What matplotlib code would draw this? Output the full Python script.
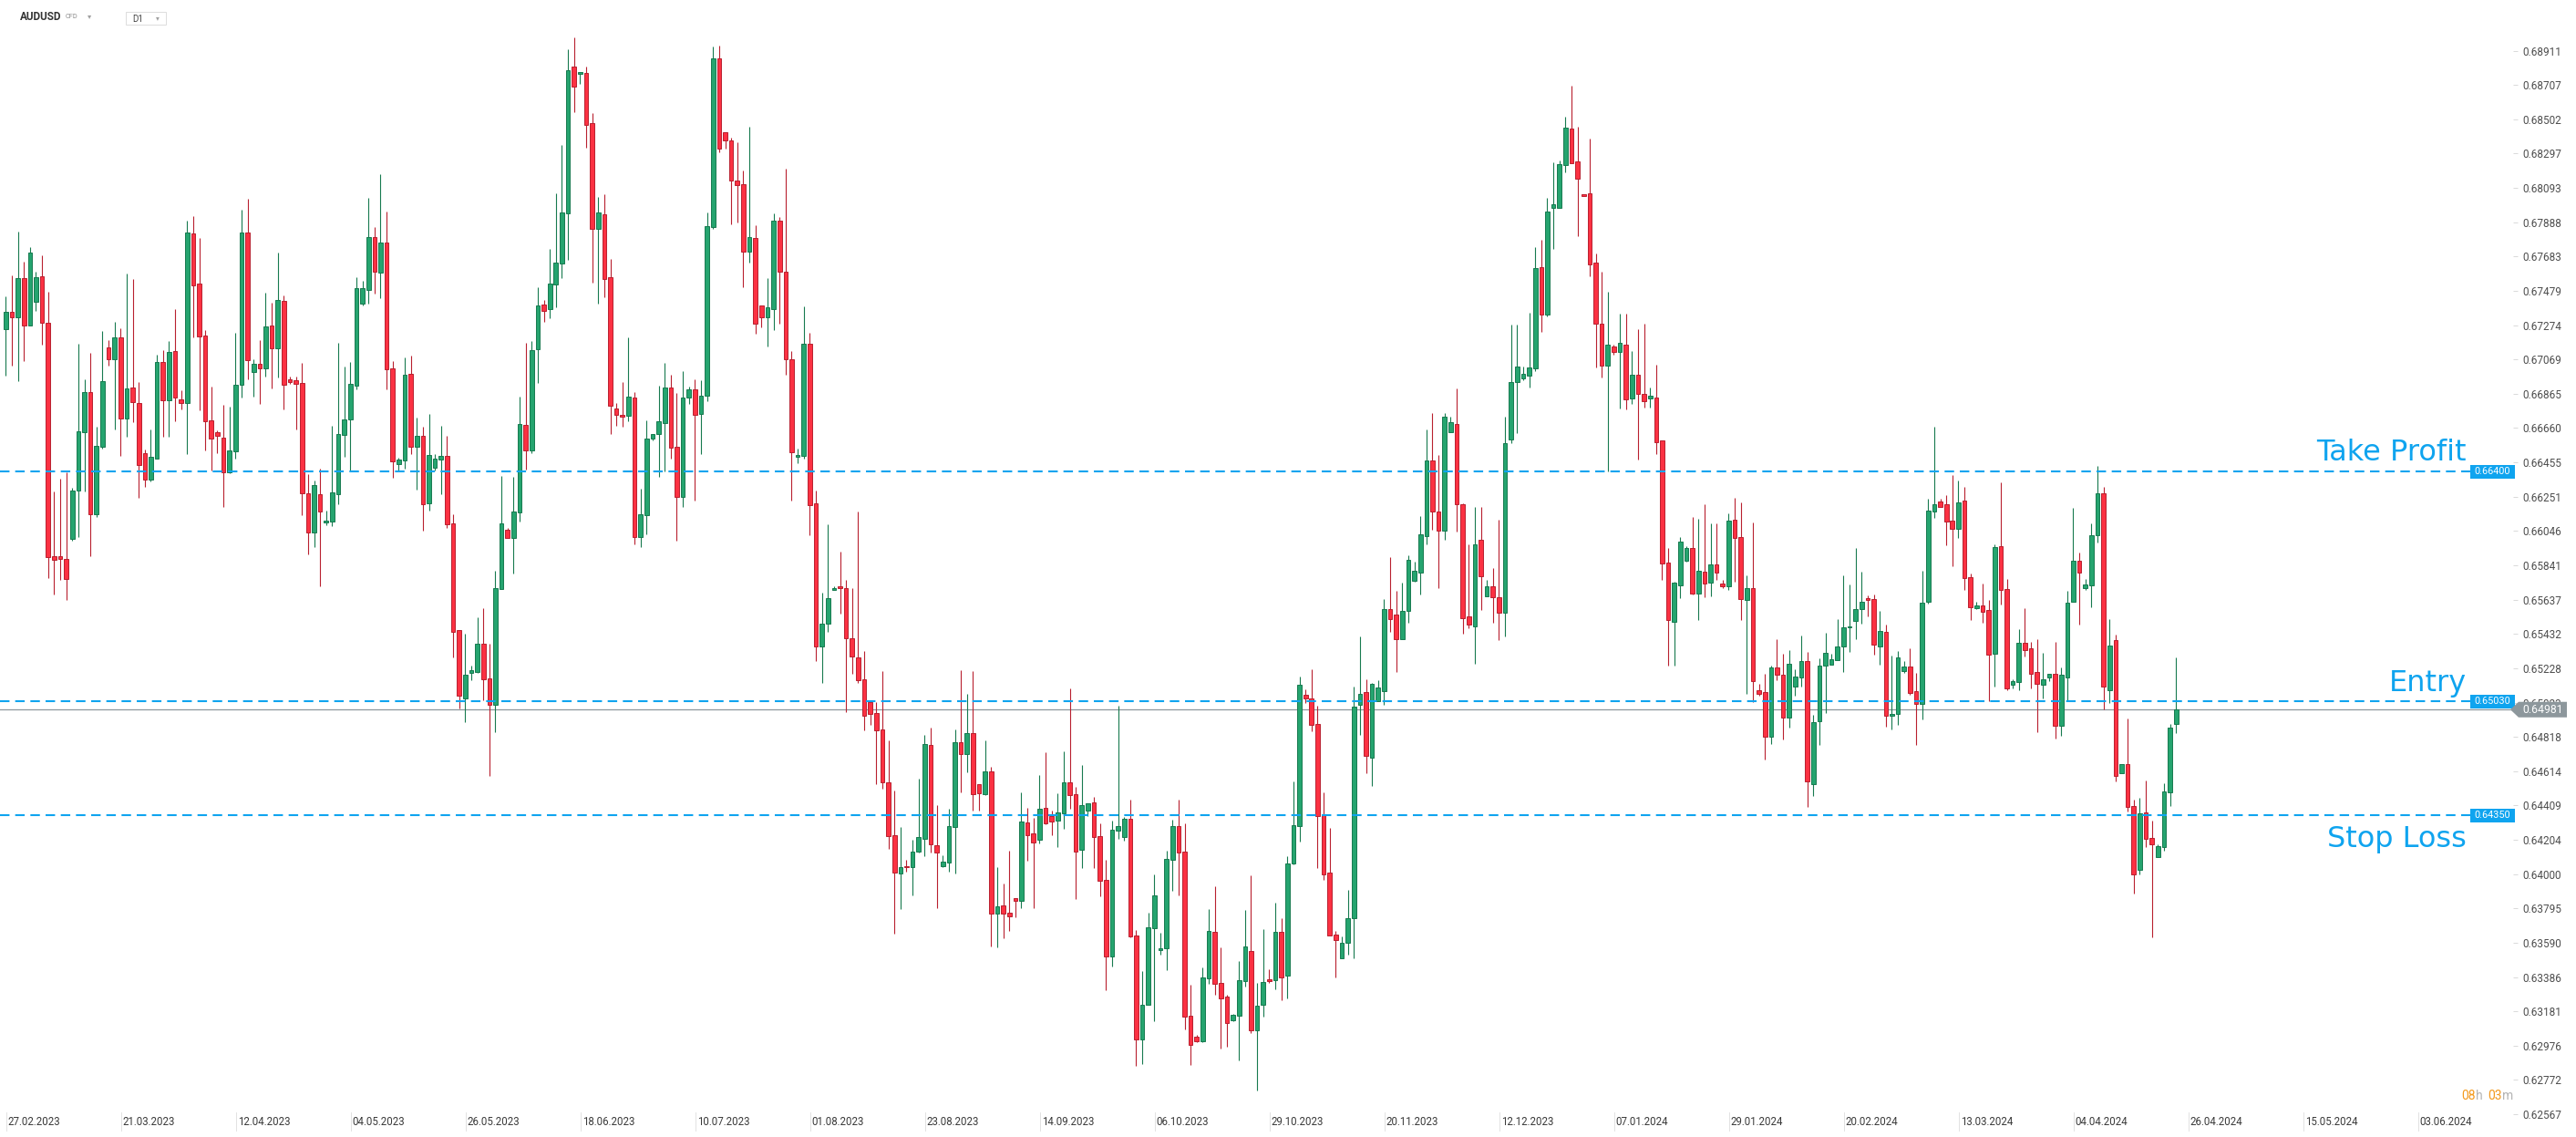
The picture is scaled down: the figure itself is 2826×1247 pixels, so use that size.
import matplotlib
matplotlib.use("Agg")
import matplotlib.pyplot as plt
import numpy as np
from matplotlib.patches import Polygon, Rectangle
from matplotlib.transforms import IdentityTransform

W, H = 2826, 1247

# daily AUDUSD candles (one entry per bar)
opens = [
    0.67248, 0.67351, 0.67319, 0.67553, 0.67270, 0.67411, 0.67563, 0.67286, 0.65894, 0.65894,
    0.65878, 0.65997, 0.66286, 0.66634, 0.66873, 0.66144, 0.66547, 0.67139, 0.67069, 0.67199,
    0.66715, 0.66900, 0.66808, 0.66509, 0.66351, 0.66476, 0.67052, 0.66824, 0.67118, 0.66829,
    0.66808, 0.67819, 0.67520, 0.67210, 0.66704, 0.66634, 0.66601, 0.66394, 0.66519, 0.66916,
    0.67824, 0.66992, 0.67041, 0.67014, 0.67270, 0.67134, 0.67417, 0.66949, 0.66944, 0.66927,
    0.66269, 0.66035, 0.66268, 0.66097, 0.66100, 0.66268, 0.66618, 0.66711, 0.66915, 0.67404,
    0.67486, 0.67798, 0.67585, 0.67765, 0.67014, 0.66443, 0.66467, 0.66985, 0.66551, 0.66615,
    0.66210, 0.66423, 0.66470, 0.66496, 0.66091, 0.65453, 0.65045, 0.65202, 0.65205, 0.65374,
    0.65167, 0.65007, 0.65698, 0.66053, 0.66003, 0.66155, 0.66679, 0.66525, 0.67128, 0.67399,
    0.67372, 0.67515, 0.67640, 0.67940, 0.68814, 0.68773, 0.68776, 0.68479, 0.67847, 0.67934,
    0.67562, 0.66778, 0.66740, 0.66731, 0.66844, 0.66009, 0.66140, 0.66595, 0.66622, 0.66692,
    0.66900, 0.66549, 0.66248, 0.66844, 0.66889, 0.66744, 0.66851, 0.67857, 0.68863, 0.68426,
    0.68377, 0.68138, 0.68113, 0.67711, 0.67791, 0.67389, 0.67323, 0.67371, 0.67895, 0.67590,
    0.67073, 0.66487, 0.66494, 0.67163, 0.66210, 0.65360, 0.65495, 0.65693, 0.65714, 0.65707,
    0.65409, 0.65294, 0.65162, 0.65027, 0.64958, 0.64861, 0.64549, 0.64233, 0.64004, 0.64049,
    0.64039, 0.64133, 0.64212, 0.64770, 0.64174, 0.64049, 0.64071, 0.64279, 0.64785, 0.64714,
    0.64839, 0.64535, 0.64478, 0.64611, 0.63763, 0.63811, 0.63768, 0.63855, 0.63839, 0.64306,
    0.64241, 0.64203, 0.64393, 0.64344, 0.64317, 0.64361, 0.64546, 0.64475, 0.64143, 0.64377,
    0.64426, 0.64225, 0.63964, 0.63507, 0.64257, 0.64219, 0.64328, 0.63632, 0.63012, 0.63219,
    0.63676, 0.63545, 0.63556, 0.64083, 0.64285, 0.64132, 0.63153, 0.63028, 0.63001, 0.63376,
    0.63654, 0.63349, 0.63268, 0.63126, 0.63153, 0.63360, 0.63539, 0.63066, 0.63220, 0.63375,
    0.63368, 0.63654, 0.63393, 0.64064, 0.64289, 0.65068, 0.65050, 0.64897, 0.64357, 0.64007,
    0.63639, 0.63497, 0.63589, 0.63736, 0.65011, 0.65083, 0.64693, 0.65029, 0.65093, 0.65582,
    0.65550, 0.65400, 0.65568, 0.65747, 0.65800, 0.66018, 0.66468, 0.66165, 0.66047, 0.66633,
    0.66686, 0.66204, 0.65536, 0.65479, 0.65993, 0.65658, 0.65715, 0.65650, 0.65561, 0.66590,
    0.66933, 0.66954, 0.66972, 0.67015, 0.67619, 0.67336, 0.67972, 0.67972, 0.68229, 0.68445,
    0.68251, 0.68057, 0.68062, 0.67646, 0.67285, 0.67030, 0.67149, 0.67116, 0.67160, 0.66839,
    0.66980, 0.66866, 0.66839, 0.66844, 0.66586, 0.65857, 0.65507, 0.65723, 0.65870, 0.65943,
    0.65671, 0.65801, 0.65740, 0.65848, 0.65732, 0.65715, 0.66112, 0.66009, 0.65637, 0.65707,
    0.65096, 0.65088, 0.64819, 0.65232, 0.65191, 0.64933, 0.65116, 0.65174, 0.65268, 0.64536,
    0.64911, 0.65243, 0.65249, 0.65277, 0.65357, 0.65471, 0.65510, 0.65582, 0.65648, 0.65640,
    0.65360, 0.65442, 0.64947, 0.64953, 0.65209, 0.65236, 0.65089, 0.65014, 0.65626, 0.66160,
    0.66221, 0.66204, 0.66110, 0.66061, 0.66225, 0.65773, 0.65588, 0.65601, 0.65574, 0.65315,
    0.65954, 0.65698, 0.65130, 0.65143, 0.65382, 0.65345, 0.65203, 0.65130, 0.65170, 0.65197,
    0.64887, 0.65174, 0.65623, 0.65867, 0.65703, 0.65723, 0.66019, 0.66269, 0.65095, 0.65393,
    0.64600, 0.64654, 0.64408, 0.64023, 0.64367, 0.64213, 0.64104, 0.64161, 0.64485, 0.64893,
]
highs = [
    0.67446, 0.67571, 0.67832, 0.67652, 0.67739, 0.67592, 0.67690, 0.67473, 0.66282, 0.66358,
    0.66396, 0.66304, 0.67163, 0.66951, 0.67109, 0.66668, 0.67237, 0.67185, 0.67293, 0.67255,
    0.67582, 0.67549, 0.66935, 0.66532, 0.66652, 0.67098, 0.67125, 0.67179, 0.67369, 0.66884,
    0.67897, 0.67924, 0.67794, 0.67244, 0.66907, 0.66645, 0.66799, 0.66788, 0.67228, 0.67962,
    0.68026, 0.67071, 0.67185, 0.67467, 0.67408, 0.67707, 0.67451, 0.66965, 0.66965, 0.67047,
    0.66385, 0.66347, 0.66420, 0.66166, 0.66673, 0.67168, 0.67029, 0.67055, 0.67562, 0.67538,
    0.68033, 0.67859, 0.68173, 0.67952, 0.67061, 0.66481, 0.67081, 0.67093, 0.66723, 0.66667,
    0.66746, 0.66504, 0.66673, 0.66615, 0.66146, 0.65453, 0.65436, 0.65246, 0.65532, 0.65587,
    0.65374, 0.65808, 0.66376, 0.66062, 0.66370, 0.66848, 0.67168, 0.67177, 0.67500, 0.67425,
    0.67731, 0.68060, 0.68348, 0.68919, 0.68989, 0.68785, 0.68817, 0.68540, 0.68039, 0.68054,
    0.67669, 0.66810, 0.66935, 0.67203, 0.66875, 0.66300, 0.66706, 0.66626, 0.66914, 0.67049,
    0.66976, 0.66869, 0.67000, 0.66910, 0.66952, 0.66945, 0.67947, 0.68935, 0.68942, 0.68426,
    0.68391, 0.68363, 0.68197, 0.68457, 0.67871, 0.67389, 0.67555, 0.67940, 0.67919, 0.68207,
    0.67122, 0.66539, 0.67385, 0.67229, 0.66289, 0.65679, 0.66085, 0.65717, 0.65922, 0.65755,
    0.65707, 0.66161, 0.65329, 0.65027, 0.65027, 0.65211, 0.64798, 0.64500, 0.64282, 0.64084,
    0.64205, 0.64569, 0.64830, 0.64875, 0.64410, 0.64115, 0.64390, 0.64863, 0.65216, 0.65075,
    0.65211, 0.64535, 0.64797, 0.64638, 0.64042, 0.63944, 0.64140, 0.63855, 0.64488, 0.64395,
    0.64335, 0.64591, 0.64727, 0.64377, 0.64482, 0.64732, 0.65107, 0.64520, 0.64651, 0.64421,
    0.64460, 0.64303, 0.64085, 0.64319, 0.65004, 0.64339, 0.64444, 0.63665, 0.63422, 0.63770,
    0.63998, 0.63650, 0.64140, 0.64323, 0.64444, 0.64303, 0.63340, 0.63039, 0.63444, 0.63794,
    0.63929, 0.63563, 0.63282, 0.63164, 0.63482, 0.63786, 0.63993, 0.63350, 0.63671, 0.63432,
    0.63829, 0.63736, 0.64107, 0.64554, 0.65179, 0.65100, 0.65222, 0.65004, 0.64486, 0.64275,
    0.63661, 0.63629, 0.63907, 0.65118, 0.65418, 0.65161, 0.65140, 0.65157, 0.65640, 0.65890,
    0.65690, 0.65740, 0.65900, 0.65865, 0.66136, 0.66651, 0.66750, 0.66501, 0.66750, 0.66729,
    0.66897, 0.66211, 0.65968, 0.66190, 0.66190, 0.65754, 0.65825, 0.66115, 0.66729, 0.67276,
    0.67276, 0.67026, 0.67347, 0.67740, 0.67783, 0.68033, 0.68244, 0.68258, 0.68515, 0.68703,
    0.68456, 0.68057, 0.68387, 0.67701, 0.67593, 0.67474, 0.67155, 0.67341, 0.67341, 0.67122,
    0.67252, 0.67280, 0.66903, 0.67038, 0.66586, 0.65943, 0.65743, 0.66012, 0.65954, 0.66131,
    0.66120, 0.66206, 0.66092, 0.66092, 0.65754, 0.66151, 0.66242, 0.66217, 0.65782, 0.66098,
    0.65133, 0.65193, 0.65243, 0.65399, 0.65316, 0.65335, 0.65221, 0.65424, 0.65324, 0.64949,
    0.65288, 0.65440, 0.65313, 0.65518, 0.65782, 0.65726, 0.65945, 0.65801, 0.65660, 0.65665,
    0.65571, 0.65488, 0.65303, 0.65330, 0.65268, 0.65347, 0.65199, 0.65809, 0.66240, 0.66668,
    0.66240, 0.66260, 0.66379, 0.66348, 0.66308, 0.65794, 0.65623, 0.65732, 0.65634, 0.65967,
    0.66337, 0.65761, 0.65164, 0.65461, 0.65586, 0.65384, 0.65401, 0.65320, 0.65197, 0.65384,
    0.65230, 0.65690, 0.66183, 0.65917, 0.65759, 0.66092, 0.66435, 0.66308, 0.65522, 0.65428,
    0.64654, 0.64928, 0.64443, 0.64454, 0.64558, 0.64319, 0.64177, 0.64541, 0.64895, 0.65293,
]
lows = [
    0.66972, 0.67032, 0.66942, 0.67061, 0.67270, 0.67360, 0.67159, 0.65767, 0.65669, 0.65756,
    0.65637, 0.65986, 0.66012, 0.66282, 0.65898, 0.66132, 0.66536, 0.67032, 0.66654, 0.66496,
    0.66610, 0.66697, 0.66246, 0.66311, 0.66340, 0.66476, 0.66610, 0.66610, 0.66702, 0.66773,
    0.66507, 0.67203, 0.66768, 0.66529, 0.66407, 0.66512, 0.66191, 0.66389, 0.66480, 0.66844,
    0.66949, 0.66849, 0.66806, 0.66969, 0.66898, 0.66963, 0.66773, 0.66922, 0.66654, 0.66142,
    0.65908, 0.65948, 0.65715, 0.66079, 0.66073, 0.66204, 0.66487, 0.66400, 0.66889, 0.67390,
    0.67401, 0.67460, 0.67433, 0.66889, 0.66362, 0.66408, 0.66417, 0.66507, 0.66292, 0.66047,
    0.66166, 0.66405, 0.66268, 0.66067, 0.65290, 0.64987, 0.64908, 0.65159, 0.65199, 0.65036,
    0.64588, 0.64847, 0.65698, 0.66003, 0.65791, 0.66100, 0.66414, 0.66513, 0.66927, 0.67291,
    0.67314, 0.67378, 0.67553, 0.67661, 0.68546, 0.68715, 0.68330, 0.67527, 0.67404, 0.67442,
    0.66624, 0.66676, 0.66670, 0.66702, 0.65964, 0.65950, 0.66029, 0.66584, 0.66369, 0.66404,
    0.66477, 0.65988, 0.66192, 0.66803, 0.66230, 0.66504, 0.66823, 0.67846, 0.68304, 0.68328,
    0.67874, 0.67888, 0.67500, 0.67649, 0.67222, 0.67260, 0.67146, 0.67247, 0.67281, 0.66976,
    0.66227, 0.66452, 0.66480, 0.66019, 0.65270, 0.65138, 0.65443, 0.65693, 0.65551, 0.64965,
    0.65197, 0.65138, 0.64857, 0.64889, 0.64535, 0.64507, 0.64153, 0.63647, 0.63789, 0.64014,
    0.63872, 0.64126, 0.64108, 0.64126, 0.63799, 0.64039, 0.64016, 0.64005, 0.64489, 0.64609,
    0.64381, 0.64381, 0.64473, 0.63570, 0.63565, 0.63619, 0.63663, 0.63744, 0.63799, 0.64081,
    0.63799, 0.64185, 0.64295, 0.64234, 0.64163, 0.64272, 0.64390, 0.63853, 0.64035, 0.64344,
    0.64038, 0.63869, 0.63309, 0.63447, 0.64208, 0.64197, 0.63621, 0.62854, 0.62865, 0.63219,
    0.63121, 0.63521, 0.63425, 0.63898, 0.63875, 0.63072, 0.62860, 0.62996, 0.62996, 0.63344,
    0.63279, 0.62958, 0.62969, 0.63121, 0.62887, 0.63327, 0.63050, 0.62710, 0.63150, 0.63350,
    0.63314, 0.63250, 0.63260, 0.64057, 0.64196, 0.65018, 0.64850, 0.64036, 0.63968, 0.63636,
    0.63386, 0.63497, 0.63522, 0.63500, 0.64829, 0.64604, 0.64525, 0.65029, 0.65008, 0.65443,
    0.65207, 0.65400, 0.65497, 0.65743, 0.65665, 0.65965, 0.66054, 0.65708, 0.65993, 0.66633,
    0.66043, 0.65436, 0.65468, 0.65254, 0.65575, 0.65658, 0.65497, 0.65393, 0.65415, 0.66572,
    0.66629, 0.66944, 0.66901, 0.67001, 0.67236, 0.67326, 0.67726, 0.67972, 0.68183, 0.68237,
    0.67807, 0.68045, 0.67566, 0.67019, 0.66964, 0.66403, 0.67099, 0.66775, 0.66769, 0.66803,
    0.66470, 0.66780, 0.66780, 0.66503, 0.65757, 0.65246, 0.65246, 0.65648, 0.65865, 0.65665,
    0.65513, 0.65651, 0.65657, 0.65757, 0.65704, 0.65693, 0.65746, 0.65513, 0.65077, 0.65027,
    0.65066, 0.64686, 0.64778, 0.65155, 0.64805, 0.64872, 0.65066, 0.65121, 0.64400, 0.64464,
    0.64772, 0.64961, 0.65249, 0.65277, 0.65207, 0.65327, 0.65399, 0.65496, 0.65537, 0.65310,
    0.65249, 0.64881, 0.64864, 0.64891, 0.65201, 0.65072, 0.64772, 0.64924, 0.65615, 0.66127,
    0.66192, 0.65963, 0.65838, 0.66002, 0.65692, 0.65517, 0.65582, 0.65501, 0.65032, 0.65116,
    0.65607, 0.65099, 0.65110, 0.65099, 0.65299, 0.65107, 0.64847, 0.65049, 0.65153, 0.64806,
    0.64827, 0.65030, 0.65623, 0.65490, 0.65696, 0.65594, 0.65979, 0.64982, 0.65018, 0.64554,
    0.64600, 0.64371, 0.63886, 0.63996, 0.64159, 0.63622, 0.64104, 0.64138, 0.64408, 0.64843,
]
closes = [
    0.67351, 0.67319, 0.67553, 0.67270, 0.67705, 0.67558, 0.67286, 0.65889, 0.65872, 0.65878,
    0.65758, 0.66286, 0.66639, 0.66873, 0.66144, 0.66552, 0.66938, 0.67069, 0.67199, 0.66715,
    0.66895, 0.66813, 0.66438, 0.66351, 0.66487, 0.67052, 0.66824, 0.67112, 0.66840, 0.66808,
    0.67824, 0.67509, 0.67204, 0.66699, 0.66596, 0.66612, 0.66394, 0.66525, 0.66916, 0.67824,
    0.67063, 0.67041, 0.67014, 0.67264, 0.67134, 0.67422, 0.66916, 0.66933, 0.66922, 0.66269,
    0.66035, 0.66320, 0.66161, 0.66108, 0.66274, 0.66624, 0.66711, 0.66921, 0.67492, 0.67497,
    0.67798, 0.67591, 0.67765, 0.67008, 0.66462, 0.66474, 0.66979, 0.66551, 0.66615, 0.66204,
    0.66501, 0.66478, 0.66496, 0.66085, 0.65447, 0.65063, 0.65191, 0.65217, 0.65374, 0.65162,
    0.65007, 0.65706, 0.66091, 0.66003, 0.66164, 0.66685, 0.66525, 0.67125, 0.67393, 0.67361,
    0.67521, 0.67646, 0.67946, 0.68796, 0.68694, 0.68785, 0.68470, 0.67847, 0.67946, 0.67547,
    0.66793, 0.66737, 0.66726, 0.66845, 0.66009, 0.66144, 0.66598, 0.66626, 0.66699, 0.66900,
    0.66542, 0.66248, 0.66844, 0.66889, 0.66737, 0.66851, 0.67867, 0.68863, 0.68325, 0.68374,
    0.68134, 0.68107, 0.67711, 0.67801, 0.67285, 0.67323, 0.67378, 0.67895, 0.67590, 0.67070,
    0.66518, 0.66501, 0.67163, 0.66203, 0.65357, 0.65495, 0.65648, 0.65707, 0.65703, 0.65405,
    0.65298, 0.65155, 0.64944, 0.64954, 0.64857, 0.64545, 0.64226, 0.64011, 0.64039, 0.64039,
    0.64133, 0.64223, 0.64777, 0.64177, 0.64126, 0.64074, 0.64285, 0.64785, 0.64714, 0.64839,
    0.64475, 0.64480, 0.64611, 0.63763, 0.63806, 0.63763, 0.63746, 0.63839, 0.64312, 0.64230,
    0.64187, 0.64388, 0.64301, 0.64312, 0.64366, 0.64546, 0.64469, 0.64132, 0.64410, 0.64421,
    0.64219, 0.63958, 0.63507, 0.64263, 0.64285, 0.64328, 0.63627, 0.63012, 0.63219, 0.63681,
    0.63871, 0.63558, 0.64089, 0.64285, 0.64127, 0.63148, 0.62980, 0.63001, 0.63382, 0.63659,
    0.63344, 0.63257, 0.63110, 0.63159, 0.63366, 0.63567, 0.63066, 0.63213, 0.63357, 0.63361,
    0.63654, 0.63386, 0.64064, 0.64293, 0.65129, 0.65047, 0.64890, 0.64346, 0.64000, 0.63636,
    0.63604, 0.63593, 0.63739, 0.65001, 0.65075, 0.64704, 0.65132, 0.65115, 0.65582, 0.65518,
    0.65400, 0.65572, 0.65875, 0.65811, 0.66029, 0.66465, 0.66165, 0.66047, 0.66729, 0.66693,
    0.66204, 0.65526, 0.65486, 0.65965, 0.65775, 0.65715, 0.65650, 0.65561, 0.66572, 0.66936,
    0.67026, 0.66983, 0.67022, 0.67615, 0.67336, 0.67954, 0.67997, 0.68233, 0.68451, 0.68242,
    0.68145, 0.68045, 0.67638, 0.67285, 0.67030, 0.67155, 0.67116, 0.67166, 0.66833, 0.66980,
    0.66866, 0.66822, 0.66853, 0.66578, 0.65851, 0.65513, 0.65737, 0.65981, 0.65943, 0.65671,
    0.65807, 0.65735, 0.65848, 0.65796, 0.65715, 0.66106, 0.66004, 0.65640, 0.65707, 0.65152,
    0.65077, 0.64819, 0.65232, 0.65188, 0.64933, 0.65255, 0.65177, 0.65268, 0.64553, 0.64908,
    0.65246, 0.65321, 0.65280, 0.65360, 0.65474, 0.65479, 0.65582, 0.65623, 0.65635, 0.65368,
    0.65449, 0.64947, 0.64957, 0.65295, 0.65236, 0.65082, 0.65014, 0.65617, 0.66167, 0.66204,
    0.66192, 0.66104, 0.66061, 0.66215, 0.65767, 0.65594, 0.65601, 0.65565, 0.65311, 0.65948,
    0.65696, 0.65105, 0.65151, 0.65382, 0.65338, 0.65197, 0.65132, 0.65160, 0.65197, 0.64887,
    0.65187, 0.65617, 0.65871, 0.65796, 0.65725, 0.66019, 0.66269, 0.65116, 0.65361, 0.64583,
    0.64654, 0.64402, 0.63996, 0.64360, 0.64209, 0.64175, 0.64167, 0.64491, 0.64872, 0.64982,
]

date_labels = ["27.02.2023", "21.03.2023", "12.04.2023", "04.05.2023", "26.05.2023",
               "18.06.2023", "10.07.2023", "01.08.2023", "23.08.2023", "14.09.2023",
               "06.10.2023", "29.10.2023", "20.11.2023", "12.12.2023", "07.01.2024",
               "29.01.2024", "20.02.2024", "13.03.2024", "04.04.2024", "26.04.2024",
               "15.05.2024", "03.06.2024"]
bars_per_label = 19

price_ticks = [0.68911, 0.68707, 0.68502, 0.68297, 0.68093, 0.67888, 0.67683, 0.67479,
               0.67274, 0.67069, 0.66865, 0.66660, 0.66455, 0.66251, 0.66046, 0.65841,
               0.65637, 0.65432, 0.65228, 0.65023, 0.64818, 0.64614, 0.64409, 0.64204,
               0.64000, 0.63795, 0.63590, 0.63386, 0.63181, 0.62976, 0.62772, 0.62567]

level_names = ["Take Profit", "Entry", "Stop Loss"]
level_prices = [0.66400, 0.65030, 0.64350]
last_price = 0.64981

GREEN, GREEN_EDGE = "#25a46f", "#177a4f"
RED, RED_EDGE = "#fb3142", "#b8202f"
BLUE = "#0fa4ef"

fig = plt.figure(figsize=(W / 100, H / 100), dpi=100)
fig.patch.set_facecolor("white")
ax = fig.add_axes([0, 0, 2757 / W, 1])
ax.set_xlim(-0.95, 414.76)
ax.set_ylim(0.624321, 0.692129)
for s in ax.spines.values():
    s.set_visible(False)

o = np.array(opens)
h = np.array(highs)
l = np.array(lows)
c = np.array(closes)
x = np.arange(len(o))
up = c >= o

ax.vlines(x[up], l[up], h[up], color=GREEN_EDGE, lw=0.8, zorder=2)
ax.vlines(x[~up], l[~up], h[~up], color=RED_EDGE, lw=0.8, zorder=2)
bottom = np.minimum(o, c)
height = np.maximum(np.abs(c - o), 0.00006)
ax.bar(x[up], height[up], bottom=bottom[up], width=0.7, color=GREEN,
       edgecolor=GREEN_EDGE, linewidth=0.7, zorder=3)
ax.bar(x[~up], height[~up], bottom=bottom[~up], width=0.7, color=RED,
       edgecolor=RED_EDGE, linewidth=0.7, zorder=3)

# current price line
ax.axhline(last_price, color="#8d979c", lw=0.9, zorder=1.5)

# levels
text_off = [12, 11, -35]
for name, lvl, dy in zip(level_names, level_prices, text_off):
    ax.axhline(lvl, xmin=0, xmax=2710 / 2757, color=BLUE, lw=1.5,
               dashes=(5, 3), zorder=4)
    ax.annotate(name, xy=(2706 / 2757, lvl), xycoords=("axes fraction", "data"),
                xytext=(0, dy), textcoords="offset pixels", ha="right",
                va="baseline", fontsize=23, color=BLUE, family="DejaVu Sans",
                zorder=6)

# right price axis
ax.yaxis.tick_right()
ax.set_yticks(price_ticks)
ax.set_yticklabels([f"{v:.5f}" for v in price_ticks])
ax.tick_params(axis="y", length=3.6, width=0.7, color="#d9d9d9", pad=3.6,
               labelsize=8.5, labelcolor="#4d4d4d")
for lab in ax.get_yticklabels():
    lab.set_fontfamily("Roboto")
ax.set_xticks([])

# date labels along the bottom
xt = ax.get_xaxis_transform()
for k, lab in enumerate(date_labels):
    xi = k * bars_per_label
    ax.plot([xi + 0.15, xi + 0.15], [7 / H, 27 / H], transform=xt,
            color="#e2e2e2", lw=0.7, clip_on=False)
    ax.text(xi + 0.35, 17 / H, lab, transform=xt, ha="left", va="center",
            fontsize=8.3, color="#3a3a3a", family="Roboto")

fig.canvas.draw()


def py(price):
    return ax.transData.transform((0, price))[1]


# price tags for levels
for lvl in level_prices:
    y = py(lvl)
    fig.add_artist(Rectangle((2710, y - 7.5), 49, 15, transform=IdentityTransform(),
                             facecolor=BLUE, edgecolor="none", zorder=5))
    fig.text(2734.5 / W, y / H, f"{lvl:.5f}", ha="center", va="center",
             color="white", fontsize=7.8, family="Roboto", zorder=6)

# current price tag
yc = py(last_price)
tag = [(2754, yc), (2763, yc + 8.5), (2816, yc + 8.5), (2816, yc - 8.5), (2763, yc - 8.5)]
fig.add_artist(Polygon(tag, closed=True, transform=IdentityTransform(),
                       facecolor="#8d979c", edgecolor="none", zorder=5))
fig.text(2767 / W, yc / H, f"{last_price:.5f}", ha="left", va="center",
         color="white", fontsize=8.8, family="Roboto", zorder=6)

# header
fig.text(22 / W, 1 - 19 / H, "AUDUSD", fontsize=8.5, fontweight="bold",
         color="#333333", family="Roboto", va="center")
fig.text(72 / W, 1 - 19 / H, "CFD", fontsize=5.3, color="#8c8c8c",
         family="Roboto", va="center")
fig.text(96 / W, 1 - 18 / H, "▾", fontsize=6, color="#a0a0a0", va="center")
fig.add_artist(Rectangle((138, H - 27), 44, 14, transform=IdentityTransform(),
                         facecolor="white", edgecolor="#dcdcdc", lw=0.7))
fig.text(145 / W, 1 - 20.5 / H, "D1", fontsize=7, color="#444444",
         family="Roboto", va="center")
fig.text(171 / W, 1 - 19.5 / H, "▾", fontsize=5.5, color="#a0a0a0", va="center")

# candle timer
ty = 1 - 1202 / H
for tx, s, col in [(2700, "08", "#f39a1e"), (2716, "h", "#b4b4b4"),
                   (2729, "03", "#f39a1e"), (2745, "m", "#b4b4b4")]:
    fig.text(tx / W, ty, s, fontsize=10, color=col, family="Roboto", va="center")

fig.savefig("out.png", dpi=100)
